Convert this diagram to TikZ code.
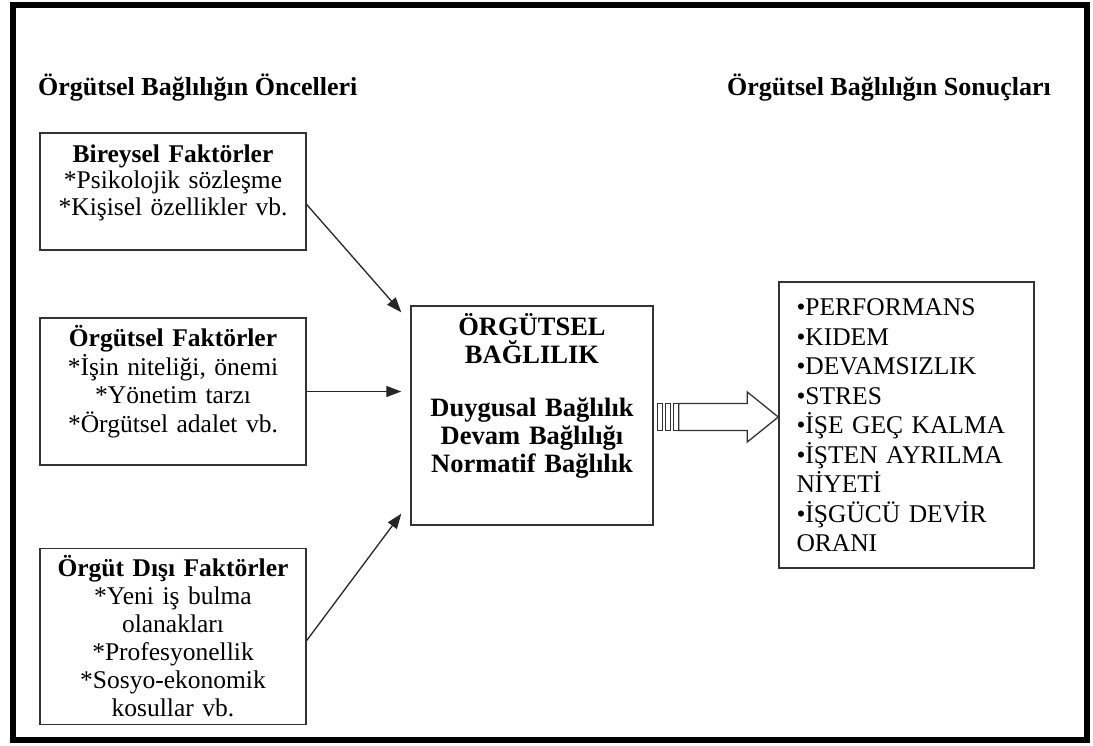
\documentclass[tikz,border=0pt]{standalone}
\usepackage{fontspec}
\setmainfont{Liberation Serif}
\usetikzlibrary{positioning,arrows.meta,calc}

\begin{document}
\begin{tikzpicture}[
  x=1pt, y=-1pt,
  box/.style={draw=black!80, line width=1.4pt, inner sep=0pt},
  txt/.style={inner sep=0pt, align=center, text width=250pt,
    font=\fontsize{25.5}{28}\selectfont},
  title/.style={inner sep=0pt, anchor=base west,
    font=\fontsize{26}{28}\selectfont\bfseries},
  edge/.style={draw=black!85, line width=1.3pt,
    -{Triangle[length=15pt,width=11pt]}},
  hollow/.style={draw=black!80, line width=1.3pt, fill=white}
]
  \useasboundingbox (0,0) rectangle (1093,745);
  \draw[line width=6pt] (13,5) rectangle (1087,740);

  \node[title] (pre) at (38,95) {Örgütsel Bağlılığın Öncelleri};
  \node[title] (post) at (727,95) {Örgütsel Bağlılığın Sonuçları};

  % antecedents
  \node[box, minimum width=266pt, minimum height=117pt] (b1) at (173,191.5) {};
  \node[box, minimum width=266pt, minimum height=147pt] (b2) at (173,391.5) {};
  \node[box, minimum width=266pt, minimum height=176pt] (b3) at (173,636.5) {};

  \node[txt, font=\fontsize{25.5}{26.5}\selectfont, below=12pt of b1.north] (t1)
    {\textbf{Bireysel Faktörler}\\{*}Psikolojik sözleşme\\{*}Kişisel özellikler vb.};
  \node[txt, font=\fontsize{25.5}{28.5}\selectfont, below=8pt of b2.north] (t2)
    {\textbf{Örgütsel Faktörler}\\{*}İşin niteliği, önemi\\{*}Yönetim tarzı\\{*}Örgütsel adalet vb.};
  \node[txt, below=7pt of b3.north] (t3)
    {\textbf{Örgüt Dışı Faktörler}\\{*}Yeni iş bulma\\olanakları\\{*}Profesyonellik\\{*}Sosyo-ekonomik\\kosullar vb.};

  % commitment
  \node[box, minimum width=242pt, minimum height=219pt] (core) at (532,415.5) {};
  \node[txt, text width=236pt, font=\fontsize{26.5}{28}\selectfont\bfseries,
    below=8pt of core.north] (tc)
    {ÖRGÜTSEL\\BAĞLILIK\\[25pt]Duygusal Bağlılık\\Devam Bağlılığı\\Normatif Bağlılık};

  % outcomes
  \node[box, minimum width=255pt, minimum height=286pt] (res) at (906.5,425) {};
  \node[txt, align=left, text width=232pt, font=\fontsize{25.5}{29.5}\selectfont,
    anchor=north west] (tr) at ($(res.north west)+(18,17.5)$)
    {•PERFORMANS\\•KIDEM\\•DEVAMSIZLIK\\•STRES\\•İŞE GEÇ KALMA\\•İŞTEN AYRILMA\\NİYETİ\\•İŞGÜCÜ DEVİR\\ORANI};

  \draw[edge] ($(b1.east)+(0,13)$) -- ($(core.north west)+(-9,7)$);
  \draw[edge, shorten >=9pt] (b2.east) -- (b2.east -| core.west);
  \draw[edge] ($(b3.east)+(0,4)$) -- ($(core.south west)+(-9,-12)$);

  % striped block arrow
  \coordinate (s) at ($(core.east)+(4,1.5)$);
  \coordinate (tip) at (res.west |- s);
  \foreach \d in {0,8,16}
    \draw[hollow] ($(s)+(\d,-13.5)$) rectangle ($(s)+(\d+5,13.5)$);
  \draw[hollow] ($(s)+(21,-13.5)$) -- ($(tip)+(-31,-13.5)$) -- ($(tip)+(-31,-25)$)
    -- (tip) -- ($(tip)+(-31,25)$) -- ($(tip)+(-31,13.5)$) -- ($(s)+(21,13.5)$) -- cycle;
\end{tikzpicture}
\end{document}
